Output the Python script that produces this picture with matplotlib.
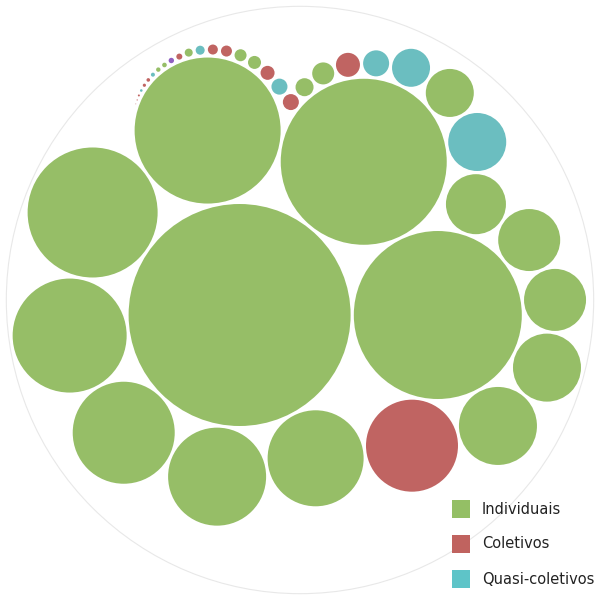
import math
import matplotlib.pyplot as plt
from matplotlib.patches import Circle, Rectangle

# circle sizes (radius, px) and their group, in packing order
radii = [111, 84, 83, 73, 65, 57, 51, 49, 48, 46, 39, 34, 31, 31, 30, 29, 24,
         19, 13, 12, 11, 9, 8, 8, 7, 6.5, 6, 5.5, 5, 4.5, 4, 3, 2.7, 2.3, 2.2,
         2, 1.8, 1.6, 1.3, 1, 0.6, 0.4]
groups = ['I', 'I', 'I', 'I', 'I', 'I', 'I', 'I', 'I', 'C', 'I', 'I', 'I', 'I', 'I', 'Q', 'I',
          'Q', 'Q', 'C', 'I', 'I', 'C', 'Q', 'C', 'I', 'I', 'C', 'C', 'Q', 'I', 'C', 'P', 'I', 'I',
          'Q', 'C', 'C', 'Q', 'C', 'C', 'C']
# which two earlier circles each circle leans on in the packing
touch_a = [None, 0, 0, 0, 0, 0, 0, 0, 0, 8, 9, 10, 11, 12, 13, 14, 15, 16, 17, 18, 19, 20, 21, 22]
touch_b = [None, None, 1, 2, 3, 4, 5, 6, 7, 1, 1, 1, 1, 1, 1, 2, 2, 2, 2, 2, 2, 2, 2, 3]
for i in range(len(touch_a), len(radii)):
    touch_a.append(i - 1)
    touch_b.append(3)

labels = ['Individuais', 'Coletivos', 'Quasi-coletivos']
colors = {'I': '#96be67', 'C': '#c06462', 'Q': '#6bbec0', 'P': '#9060c0'}
legend_colors = ['#94bf65', '#c0635f', '#5ec4c8']

PAD = 1.6
rr = [r + PAD for r in radii]


def tangent_points(p, rp, q, rq, r):
    dx, dy = q[0] - p[0], q[1] - p[1]
    d = math.hypot(dx, dy)
    a, b = rp + r, rq + r
    x = (a * a - b * b + d * d) / (2 * d)
    h = math.sqrt(max(0, a * a - x * x))
    ux, uy = dx / d, dy / d
    mx, my = p[0] + ux * x, p[1] + uy * x
    return [(mx - uy * h, my + ux * h), (mx + uy * h, my - ux * h)]


pos = [(0.0, 0.0)]
pos.append((rr[0] + rr[1], 0.0))
for i in range(2, len(rr)):
    a, b = touch_a[i], touch_b[i]
    cands = tangent_points(pos[a], rr[a], pos[b], rr[b], rr[i])

    def overlap(c):
        return sum(max(0, rr[i] + rr[j] - math.hypot(c[0] - pos[j][0], c[1] - pos[j][1]) - 0.01)
                   for j in range(i))
    cands.sort(key=lambda c: (round(overlap(c), 3), c[1]))
    pos.append(cands[0])

# enclosing circle centre
cx = sum(p[0] for p in pos) / len(pos)
cy = sum(p[1] for p in pos) / len(pos)
step = 40.0
for _ in range(5000):
    k = max(range(len(pos)), key=lambda j: math.hypot(pos[j][0] - cx, pos[j][1] - cy) + rr[j])
    d = math.hypot(pos[k][0] - cx, pos[k][1] - cy) or 1
    cx += (pos[k][0] - cx) / d * step
    cy += (pos[k][1] - cy) / d * step
    step *= 0.997
R = max(math.hypot(p[0] - cx, p[1] - cy) + r for p, r in zip(pos, rr))

fig = plt.figure(figsize=(6, 6), dpi=100)
ax = fig.add_axes([0, 0, 1, 1])
ax.set_xlim(0, 600)
ax.set_ylim(600, 0)
ax.axis('off')

ox, oy = 300, 300
ax.add_patch(Circle((ox, oy), R + 2, fill=False, ec='#e8e8e8', lw=0.8))
for p, r, g in zip(pos, radii, groups):
    ax.add_patch(Circle((ox + p[0] - cx, oy + p[1] - cy), r, color=colors[g], lw=0))

for i, (lab, col) in enumerate(zip(labels, legend_colors)):
    y = 509 + i * 35
    ax.add_patch(Rectangle((452, y - 9), 18, 18, color=col, lw=0))
    ax.text(482, y, lab, va='center', ha='left', fontsize=10.5, color='#222222')

fig.savefig('out.png')
